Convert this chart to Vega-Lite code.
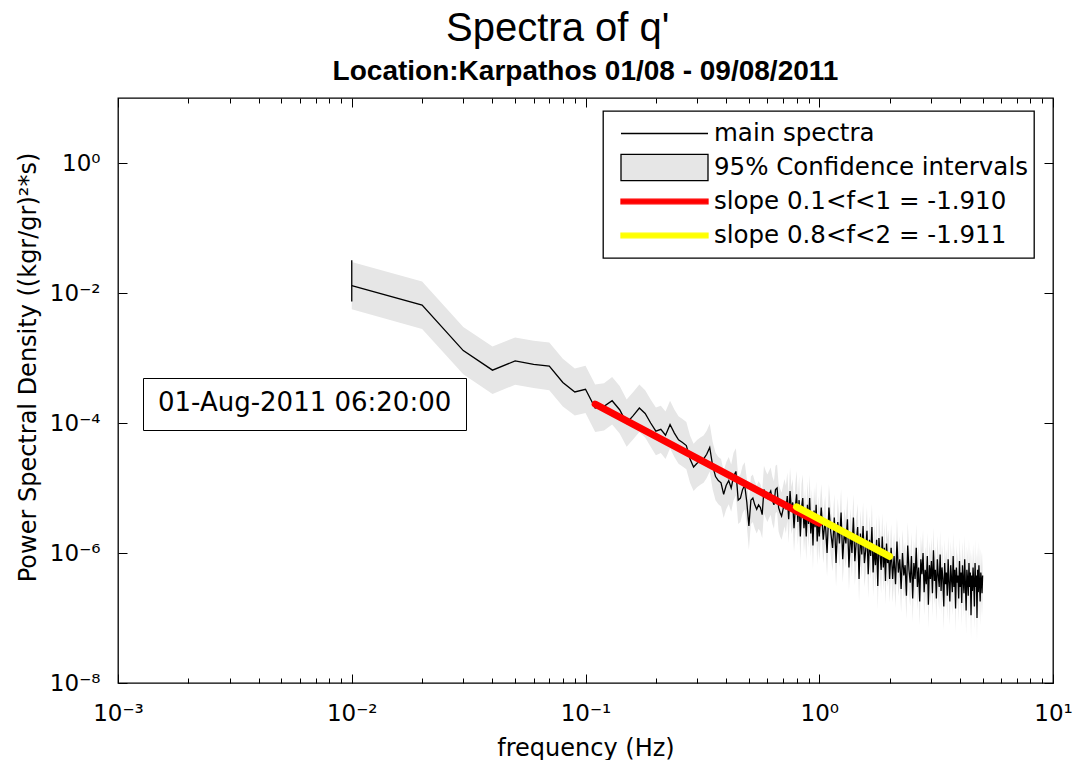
{
"$schema": "https://vega.github.io/schema/vega-lite/v6.json",
"width": 935, "height": 585,
"autosize": {"type": "none"},
"padding": {"left": 118, "top": 98, "right": 22, "bottom": 77},
"background": "white",
"title": {"text": "Spectra of q'\u00a0\u00a0\u00a0\u00a0\u00a0\u200b", "subtitle": "Location:Karpathos 01/08  - 09/08/2011", "anchor": "middle", "frame": "group", "font": "Liberation Sans", "fontSize": 40, "fontWeight": "normal", "color": "black", "subtitleFont": "Liberation Sans", "subtitleFontSize": 28, "subtitleFontWeight": "bold", "subtitleColor": "black", "subtitlePadding": 9, "offset": 12},
"datasets": {
"spec": [
{"f":0.01,"p":1.3e-2,"lo":0.56e-2,"hi":3.0e-2},
{"f":0.02,"p":6.5e-3,"lo":2.8e-3,"hi":15.0e-3},
{"f":0.03,"p":1.3e-3,"lo":0.56e-3,"hi":3.0e-3},
{"f":0.04,"p":6.5e-4,"lo":2.8e-4,"hi":15.0e-4},
{"f":0.05,"p":9.0e-4,"lo":3.87e-4,"hi":20.7e-4},
{"f":0.06,"p":8.0e-4,"lo":3.44e-4,"hi":18.4e-4},
{"f":0.07,"p":7.5e-4,"lo":3.2e-4,"hi":17.3e-4},
{"f":0.08,"p":4.2e-4,"lo":1.8e-4,"hi":9.7e-4},
{"f":0.09,"p":3.0e-4,"lo":1.3e-4,"hi":6.9e-4},
{"f":0.10,"p":3.3e-4,"lo":1.42e-4,"hi":7.6e-4},
{"f":0.11,"p":1.7e-4,"lo":0.73e-4,"hi":3.9e-4},
{"f":0.12,"p":1.8e-4,"lo":0.77e-4,"hi":4.1e-4},
{"f":0.13,"p":2.2e-4,"lo":0.95e-4,"hi":5.1e-4},
{"f":0.14,"p":1.6e-4,"lo":0.69e-4,"hi":3.7e-4},
{"f":0.15,"p":1.0e-4,"lo":0.43e-4,"hi":2.3e-4},
{"f":0.16,"p":1.3e-4,"lo":0.56e-4,"hi":3.0e-4},
{"f":0.17,"p":1.7e-4,"lo":0.73e-4,"hi":3.9e-4},
{"f":0.18,"p":1.4e-4,"lo":0.60e-4,"hi":3.2e-4},
{"f":0.19,"p":1.0e-4,"lo":0.43e-4,"hi":2.3e-4},
{"f":0.20,"p":7.5e-5,"lo":3.2e-5,"hi":17.3e-5},
{"f":0.21,"p":8.0e-5,"lo":3.44e-5,"hi":18.4e-5},
{"f":0.22,"p":6.5e-5,"lo":2.8e-5,"hi":15.0e-5},
{"f":0.23,"p":9.5e-5,"lo":4.1e-5,"hi":21.9e-5},
{"f":0.24,"p":7.0e-5,"lo":3.0e-5,"hi":16.1e-5},
{"f":0.25,"p":5.5e-5,"lo":2.37e-5,"hi":12.7e-5},
{"f":0.26,"p":5.0e-5,"lo":2.15e-5,"hi":11.5e-5},
{"f":0.27,"p":4.5e-5,"lo":1.94e-5,"hi":10.4e-5},
{"f":0.28,"p":2.8e-5,"lo":1.2e-5,"hi":6.4e-5},
{"f":0.29,"p":2.1e-5,"lo":0.90e-5,"hi":4.8e-5},
{"f":0.30,"p":2.4e-5,"lo":1.03e-5,"hi":5.5e-5},
{"f":0.31,"p":2.6e-5,"lo":1.12e-5,"hi":6.0e-5},
{"f":0.32,"p":2.8e-5,"lo":1.2e-5,"hi":6.4e-5},
{"f":0.33,"p":3.3e-5,"lo":1.42e-5,"hi":7.6e-5},
{"f":0.34,"p":4.2e-5,"lo":1.8e-5,"hi":9.7e-5},
{"f":0.35,"p":2.2e-5,"lo":0.95e-5,"hi":5.1e-5},
{"f":0.36,"p":1.5e-5,"lo":0.65e-5,"hi":3.5e-5},
{"f":0.37,"p":1.3e-5,"lo":0.56e-5,"hi":3.0e-5},
{"f":0.38,"p":1.2e-5,"lo":0.52e-5,"hi":2.8e-5},
{"f":0.39,"p":8.0e-6,"lo":3.44e-6,"hi":18.4e-6},
{"f":0.40,"p":1.1e-5,"lo":0.47e-5,"hi":2.5e-5},
{"f":0.41,"p":1.3e-5,"lo":0.56e-5,"hi":3.0e-5},
{"f":0.42,"p":1.0e-5,"lo":0.43e-5,"hi":2.3e-5},
{"f":0.43,"p":1.5e-5,"lo":0.65e-5,"hi":3.5e-5},
{"f":0.44,"p":1.8e-5,"lo":0.77e-5,"hi":4.1e-5},
{"f":0.45,"p":6.5e-6,"lo":2.8e-6,"hi":15.0e-6},
{"f":0.46,"p":7.0e-6,"lo":3.0e-6,"hi":16.1e-6},
{"f":0.47,"p":9.5e-6,"lo":4.1e-6,"hi":21.9e-6},
{"f":0.48,"p":1.1e-5,"lo":0.47e-5,"hi":2.5e-5},
{"f":0.49,"p":6.0e-6,"lo":2.58e-6,"hi":13.8e-6},
{"f":0.50,"p":2.6e-6,"lo":1.12e-6,"hi":6.0e-6},
{"f":0.51,"p":6.5e-6,"lo":2.8e-6,"hi":15.0e-6},
{"f":0.52,"p":7.0e-6,"lo":3.0e-6,"hi":16.1e-6},
{"f":0.53,"p":5.5e-6,"lo":2.37e-6,"hi":12.7e-6},
{"f":0.54,"p":4.7e-6,"lo":2.0e-6,"hi":10.8e-6},
{"f":0.55,"p":5.5e-6,"lo":2.37e-6,"hi":12.7e-6},
{"f":0.56,"p":5.0e-6,"lo":2.15e-6,"hi":11.5e-6},
{"f":0.57,"p":3.9e-6,"lo":1.68e-6,"hi":9.0e-6},
{"f":0.58,"p":9.5e-6,"lo":4.1e-6,"hi":21.9e-6},
{"f":0.59,"p":8.0e-6,"lo":3.44e-6,"hi":18.4e-6},
{"f":0.60,"p":7.0e-6,"lo":3.0e-6,"hi":16.1e-6},
{"f":0.61,"p":8.0e-6,"lo":3.44e-6,"hi":18.4e-6},
{"f":0.62,"p":9.0e-6,"lo":3.87e-6,"hi":20.7e-6},
{"f":0.63,"p":6.5e-6,"lo":2.8e-6,"hi":15.0e-6},
{"f":0.64,"p":5.5e-6,"lo":2.37e-6,"hi":12.7e-6},
{"f":0.65,"p":9.5e-6,"lo":4.1e-6,"hi":21.9e-6},
{"f":0.66,"p":1.0e-5,"lo":0.43e-5,"hi":2.3e-5},
{"f":0.67,"p":5.0e-6,"lo":2.15e-6,"hi":11.5e-6},
{"f":0.68,"p":4.2e-6,"lo":1.8e-6,"hi":9.7e-6},
{"f":0.69,"p":3.7e-6,"lo":1.6e-6,"hi":8.5e-6},
{"f":0.70,"p":4.7e-6,"lo":2.0e-6,"hi":10.8e-6},
{"f":0.71,"p":6.0e-6,"lo":2.58e-6,"hi":13.8e-6},
{"f":0.72,"p":4.7e-6,"lo":2.0e-6,"hi":10.8e-6},
{"f":0.73,"p":7.5e-6,"lo":3.2e-6,"hi":17.3e-6},
{"f":0.74,"p":3.3e-6,"lo":1.42e-6,"hi":7.6e-6},
{"f":0.75,"p":9.0e-6,"lo":3.87e-6,"hi":20.7e-6},
{"f":0.76,"p":4.5e-6,"lo":1.94e-6,"hi":10.4e-6},
{"f":0.77,"p":6.0e-6,"lo":2.58e-6,"hi":13.8e-6},
{"f":0.78,"p":2.4e-6,"lo":1.03e-6,"hi":5.5e-6},
{"f":0.79,"p":5.0e-6,"lo":2.15e-6,"hi":11.5e-6},
{"f":0.80,"p":8.0e-6,"lo":3.44e-6,"hi":18.4e-6},
{"f":0.81,"p":3.0e-6,"lo":1.3e-6,"hi":6.9e-6},
{"f":0.82,"p":6.5e-6,"lo":2.8e-6,"hi":15.0e-6},
{"f":0.83,"p":1.8e-6,"lo":0.77e-6,"hi":4.1e-6},
{"f":0.84,"p":5.0e-6,"lo":2.15e-6,"hi":11.5e-6},
{"f":0.85,"p":7.0e-6,"lo":3.0e-6,"hi":16.1e-6},
{"f":0.86,"p":2.4e-6,"lo":1.03e-6,"hi":5.5e-6},
{"f":0.87,"p":4.2e-6,"lo":1.8e-6,"hi":9.7e-6},
{"f":0.88,"p":1.8e-6,"lo":0.77e-6,"hi":4.1e-6},
{"f":0.89,"p":5.5e-6,"lo":2.37e-6,"hi":12.7e-6},
{"f":0.90,"p":2.8e-6,"lo":1.2e-6,"hi":6.4e-6},
{"f":0.91,"p":7.0e-6,"lo":3.0e-6,"hi":16.1e-6},
{"f":0.92,"p":2.0e-6,"lo":0.86e-6,"hi":4.6e-6},
{"f":0.93,"p":4.2e-6,"lo":1.8e-6,"hi":9.7e-6},
{"f":0.94,"p":1.3e-6,"lo":0.56e-6,"hi":3.0e-6},
{"f":0.95,"p":4.5e-6,"lo":1.94e-6,"hi":10.4e-6},
{"f":0.96,"p":2.5e-6,"lo":1.08e-6,"hi":5.8e-6},
{"f":0.97,"p":5.5e-6,"lo":2.37e-6,"hi":12.7e-6},
{"f":0.98,"p":1.5e-6,"lo":0.65e-6,"hi":3.5e-6},
{"f":0.99,"p":3.3e-6,"lo":1.42e-6,"hi":7.6e-6},
{"f":1.00,"p":1.8e-6,"lo":0.77e-6,"hi":4.1e-6},
{"f":1.02,"p":5.0e-6,"lo":2.15e-6,"hi":11.5e-6},
{"f":1.04,"p":1.6e-6,"lo":0.69e-6,"hi":3.7e-6},
{"f":1.06,"p":3.3e-6,"lo":1.42e-6,"hi":7.6e-6},
{"f":1.08,"p":1.0e-6,"lo":0.43e-6,"hi":2.3e-6},
{"f":1.10,"p":5.0e-6,"lo":2.15e-6,"hi":11.5e-6},
{"f":1.12,"p":2.1e-6,"lo":0.90e-6,"hi":4.8e-6},
{"f":1.14,"p":1.2e-6,"lo":0.52e-6,"hi":2.8e-6},
{"f":1.16,"p":3.5e-6,"lo":1.5e-6,"hi":8.1e-6},
{"f":1.18,"p":7.0e-7,"lo":3.0e-7,"hi":16.1e-7},
{"f":1.20,"p":3.0e-6,"lo":1.3e-6,"hi":6.9e-6},
{"f":1.22,"p":1.4e-6,"lo":0.60e-6,"hi":3.2e-6},
{"f":1.24,"p":4.2e-6,"lo":1.8e-6,"hi":9.7e-6},
{"f":1.26,"p":8.0e-7,"lo":3.44e-7,"hi":18.4e-7},
{"f":1.28,"p":2.1e-6,"lo":0.90e-6,"hi":4.8e-6},
{"f":1.30,"p":1.4e-6,"lo":0.60e-6,"hi":3.2e-6},
{"f":1.32,"p":3.3e-6,"lo":1.42e-6,"hi":7.6e-6},
{"f":1.34,"p":6.0e-7,"lo":2.58e-7,"hi":13.8e-7},
{"f":1.36,"p":2.1e-6,"lo":0.90e-6,"hi":4.8e-6},
{"f":1.38,"p":1.0e-6,"lo":0.43e-6,"hi":2.3e-6},
{"f":1.40,"p":3.5e-6,"lo":1.5e-6,"hi":8.1e-6},
{"f":1.42,"p":7.5e-7,"lo":3.2e-7,"hi":17.3e-7},
{"f":1.44,"p":1.5e-6,"lo":0.65e-6,"hi":3.5e-6},
{"f":1.46,"p":2.5e-6,"lo":1.08e-6,"hi":5.8e-6},
{"f":1.48,"p":4.0e-7,"lo":1.72e-7,"hi":9.2e-7},
{"f":1.50,"p":2.0e-6,"lo":0.86e-6,"hi":4.6e-6},
{"f":1.52,"p":9.5e-7,"lo":4.1e-7,"hi":21.9e-7},
{"f":1.54,"p":2.6e-6,"lo":1.12e-6,"hi":6.0e-6},
{"f":1.56,"p":7.0e-7,"lo":3.0e-7,"hi":16.1e-7},
{"f":1.58,"p":1.1e-6,"lo":0.47e-6,"hi":2.5e-6},
{"f":1.60,"p":2.2e-6,"lo":0.95e-6,"hi":5.1e-6},
{"f":1.62,"p":4.7e-7,"lo":2.0e-7,"hi":10.8e-7},
{"f":1.64,"p":1.6e-6,"lo":0.69e-6,"hi":3.7e-6},
{"f":1.66,"p":9.0e-7,"lo":3.87e-7,"hi":20.7e-7},
{"f":1.68,"p":2.5e-6,"lo":1.08e-6,"hi":5.8e-6},
{"f":1.70,"p":5.0e-7,"lo":2.15e-7,"hi":11.5e-7},
{"f":1.72,"p":1.2e-6,"lo":0.52e-6,"hi":2.8e-6},
{"f":1.74,"p":6.5e-7,"lo":2.8e-7,"hi":15.0e-7},
{"f":1.76,"p":1.6e-6,"lo":0.69e-6,"hi":3.7e-6},
{"f":1.78,"p":3.1e-7,"lo":1.33e-7,"hi":7.1e-7},
{"f":1.80,"p":1.7e-6,"lo":0.73e-6,"hi":3.9e-6},
{"f":1.82,"p":9.5e-7,"lo":4.1e-7,"hi":21.9e-7},
{"f":1.84,"p":5.5e-7,"lo":2.37e-7,"hi":12.7e-7},
{"f":1.86,"p":1.8e-6,"lo":0.77e-6,"hi":4.1e-6},
{"f":1.88,"p":6.0e-7,"lo":2.58e-7,"hi":13.8e-7},
{"f":1.90,"p":1.2e-6,"lo":0.52e-6,"hi":2.8e-6},
{"f":1.92,"p":3.7e-7,"lo":1.6e-7,"hi":8.5e-7},
{"f":1.94,"p":1.4e-6,"lo":0.60e-6,"hi":3.2e-6},
{"f":1.96,"p":7.0e-7,"lo":3.0e-7,"hi":16.1e-7},
{"f":1.98,"p":1.0e-6,"lo":0.43e-6,"hi":2.3e-6},
{"f":2.00,"p":4.0e-7,"lo":1.72e-7,"hi":9.2e-7},
{"f":2.03,"p":1.2e-6,"lo":0.52e-6,"hi":2.8e-6},
{"f":2.06,"p":4.0e-7,"lo":1.72e-7,"hi":9.2e-7},
{"f":2.09,"p":9.0e-7,"lo":3.87e-7,"hi":20.7e-7},
{"f":2.12,"p":3.3e-7,"lo":1.42e-7,"hi":7.6e-7},
{"f":2.15,"p":1.5e-6,"lo":0.65e-6,"hi":3.5e-6},
{"f":2.18,"p":5.0e-7,"lo":2.15e-7,"hi":11.5e-7},
{"f":2.21,"p":8.0e-7,"lo":3.44e-7,"hi":18.4e-7},
{"f":2.24,"p":2.8e-7,"lo":1.2e-7,"hi":6.4e-7},
{"f":2.27,"p":1.0e-6,"lo":0.43e-6,"hi":2.3e-6},
{"f":2.30,"p":4.5e-7,"lo":1.94e-7,"hi":10.4e-7},
{"f":2.33,"p":6.5e-7,"lo":2.8e-7,"hi":15.0e-7},
{"f":2.36,"p":2.2e-7,"lo":0.95e-7,"hi":5.1e-7},
{"f":2.39,"p":1.3e-6,"lo":0.56e-6,"hi":3.0e-6},
{"f":2.42,"p":5.5e-7,"lo":2.37e-7,"hi":12.7e-7},
{"f":2.45,"p":3.5e-7,"lo":1.5e-7,"hi":8.1e-7},
{"f":2.48,"p":9.0e-7,"lo":3.87e-7,"hi":20.7e-7},
{"f":2.51,"p":2.0e-7,"lo":0.86e-7,"hi":4.6e-7},
{"f":2.54,"p":7.0e-7,"lo":3.0e-7,"hi":16.1e-7},
{"f":2.57,"p":4.0e-7,"lo":1.72e-7,"hi":9.2e-7},
{"f":2.60,"p":1.2e-6,"lo":0.52e-6,"hi":2.8e-6},
{"f":2.63,"p":3.0e-7,"lo":1.3e-7,"hi":6.9e-7},
{"f":2.66,"p":6.0e-7,"lo":2.58e-7,"hi":13.8e-7},
{"f":2.69,"p":1.8e-7,"lo":0.77e-7,"hi":4.1e-7},
{"f":2.72,"p":8.0e-7,"lo":3.44e-7,"hi":18.4e-7},
{"f":2.75,"p":4.7e-7,"lo":2.0e-7,"hi":10.8e-7},
{"f":2.78,"p":1.0e-6,"lo":0.43e-6,"hi":2.3e-6},
{"f":2.81,"p":2.5e-7,"lo":1.08e-7,"hi":5.8e-7},
{"f":2.84,"p":5.5e-7,"lo":2.37e-7,"hi":12.7e-7},
{"f":2.87,"p":3.3e-7,"lo":1.42e-7,"hi":7.6e-7},
{"f":2.90,"p":9.0e-7,"lo":3.87e-7,"hi":20.7e-7},
{"f":2.93,"p":1.6e-7,"lo":0.69e-7,"hi":3.7e-7},
{"f":2.96,"p":6.5e-7,"lo":2.8e-7,"hi":15.0e-7},
{"f":2.99,"p":4.0e-7,"lo":1.72e-7,"hi":9.2e-7},
{"f":3.02,"p":7.5e-7,"lo":3.2e-7,"hi":17.3e-7},
{"f":3.05,"p":2.4e-7,"lo":1.03e-7,"hi":5.5e-7},
{"f":3.08,"p":1.1e-6,"lo":0.47e-6,"hi":2.5e-6},
{"f":3.11,"p":3.7e-7,"lo":1.6e-7,"hi":8.5e-7},
{"f":3.14,"p":5.5e-7,"lo":2.37e-7,"hi":12.7e-7},
{"f":3.17,"p":2.0e-7,"lo":0.86e-7,"hi":4.6e-7},
{"f":3.20,"p":8.0e-7,"lo":3.44e-7,"hi":18.4e-7},
{"f":3.23,"p":4.5e-7,"lo":1.94e-7,"hi":10.4e-7},
{"f":3.26,"p":3.0e-7,"lo":1.3e-7,"hi":6.9e-7},
{"f":3.29,"p":9.5e-7,"lo":4.1e-7,"hi":21.9e-7},
{"f":3.32,"p":2.6e-7,"lo":1.12e-7,"hi":6.0e-7},
{"f":3.35,"p":6.0e-7,"lo":2.58e-7,"hi":13.8e-7},
{"f":3.38,"p":4.0e-7,"lo":1.72e-7,"hi":9.2e-7},
{"f":3.41,"p":1.5e-7,"lo":0.65e-7,"hi":3.5e-7},
{"f":3.44,"p":7.0e-7,"lo":3.0e-7,"hi":16.1e-7},
{"f":3.47,"p":3.3e-7,"lo":1.42e-7,"hi":7.6e-7},
{"f":3.50,"p":5.0e-7,"lo":2.15e-7,"hi":11.5e-7},
{"f":3.53,"p":2.2e-7,"lo":0.95e-7,"hi":5.1e-7},
{"f":3.56,"p":8.0e-7,"lo":3.44e-7,"hi":18.4e-7},
{"f":3.59,"p":3.5e-7,"lo":1.5e-7,"hi":8.1e-7},
{"f":3.62,"p":1.8e-7,"lo":0.77e-7,"hi":4.1e-7},
{"f":3.65,"p":6.5e-7,"lo":2.8e-7,"hi":15.0e-7},
{"f":3.68,"p":4.0e-7,"lo":1.72e-7,"hi":9.2e-7},
{"f":3.71,"p":2.5e-7,"lo":1.08e-7,"hi":5.8e-7},
{"f":3.74,"p":9.0e-7,"lo":3.87e-7,"hi":20.7e-7},
{"f":3.77,"p":3.0e-7,"lo":1.3e-7,"hi":6.9e-7},
{"f":3.80,"p":5.5e-7,"lo":2.37e-7,"hi":12.7e-7},
{"f":3.83,"p":1.4e-7,"lo":0.60e-7,"hi":3.2e-7},
{"f":3.86,"p":6.0e-7,"lo":2.58e-7,"hi":13.8e-7},
{"f":3.89,"p":3.5e-7,"lo":1.5e-7,"hi":8.1e-7},
{"f":3.92,"p":4.5e-7,"lo":1.94e-7,"hi":10.4e-7},
{"f":3.95,"p":2.0e-7,"lo":0.86e-7,"hi":4.6e-7},
{"f":3.98,"p":7.5e-7,"lo":3.2e-7,"hi":17.3e-7},
{"f":4.01,"p":3.0e-7,"lo":1.3e-7,"hi":6.9e-7},
{"f":4.04,"p":5.0e-7,"lo":2.15e-7,"hi":11.5e-7},
{"f":4.07,"p":1.7e-7,"lo":0.73e-7,"hi":3.9e-7},
{"f":4.10,"p":6.5e-7,"lo":2.8e-7,"hi":15.0e-7},
{"f":4.13,"p":3.9e-7,"lo":1.68e-7,"hi":9.0e-7},
{"f":4.16,"p":2.4e-7,"lo":1.03e-7,"hi":5.5e-7},
{"f":4.19,"p":8.0e-7,"lo":3.44e-7,"hi":18.4e-7},
{"f":4.22,"p":3.3e-7,"lo":1.42e-7,"hi":7.6e-7},
{"f":4.25,"p":1.3e-7,"lo":0.56e-7,"hi":3.0e-7},
{"f":4.28,"p":5.5e-7,"lo":2.37e-7,"hi":12.7e-7},
{"f":4.31,"p":4.0e-7,"lo":1.72e-7,"hi":9.2e-7},
{"f":4.34,"p":2.2e-7,"lo":0.95e-7,"hi":5.1e-7},
{"f":4.37,"p":7.0e-7,"lo":3.0e-7,"hi":16.1e-7},
{"f":4.40,"p":3.0e-7,"lo":1.3e-7,"hi":6.9e-7},
{"f":4.43,"p":5.0e-7,"lo":2.15e-7,"hi":11.5e-7},
{"f":4.46,"p":1.1e-7,"lo":0.47e-7,"hi":2.5e-7},
{"f":4.49,"p":4.5e-7,"lo":1.94e-7,"hi":10.4e-7},
{"f":4.52,"p":2.6e-7,"lo":1.12e-7,"hi":6.0e-7},
{"f":4.55,"p":6.0e-7,"lo":2.58e-7,"hi":13.8e-7},
{"f":4.58,"p":3.5e-7,"lo":1.5e-7,"hi":8.1e-7},
{"f":4.61,"p":1.5e-7,"lo":0.65e-7,"hi":3.5e-7},
{"f":4.64,"p":7.0e-7,"lo":3.0e-7,"hi":16.1e-7},
{"f":4.67,"p":3.0e-7,"lo":1.3e-7,"hi":6.9e-7},
{"f":4.70,"p":4.5e-7,"lo":1.94e-7,"hi":10.4e-7},
{"f":4.73,"p":1.0e-7,"lo":0.43e-7,"hi":2.3e-7},
{"f":4.76,"p":5.5e-7,"lo":2.37e-7,"hi":12.7e-7},
{"f":4.79,"p":2.5e-7,"lo":1.08e-7,"hi":5.8e-7},
{"f":4.82,"p":6.5e-7,"lo":2.8e-7,"hi":15.0e-7},
{"f":4.85,"p":3.3e-7,"lo":1.42e-7,"hi":7.6e-7},
{"f":4.88,"p":1.8e-7,"lo":0.77e-7,"hi":4.1e-7},
{"f":4.91,"p":5.0e-7,"lo":2.15e-7,"hi":11.5e-7},
{"f":4.94,"p":3.9e-7,"lo":1.68e-7,"hi":9.0e-7},
{"f":4.97,"p":2.4e-7,"lo":1.03e-7,"hi":5.5e-7},
{"f":5.00,"p":4.5e-7,"lo":1.94e-7,"hi":10.4e-7}
],
"fits": [
{"f":0.11,"p":1.95e-4,"s":"slope 0.1<f<1 = -1.910"},
{"f":1.0,"p":2.88e-6,"s":"slope 0.1<f<1 = -1.910"},
{"f":0.8,"p":5.13e-6,"s":"slope 0.8<f<2 = -1.911"},
{"f":2.0,"p":8.9e-7,"s":"slope 0.8<f<2 = -1.911"}
],
"start": [{"f":0.01,"a":3.2e-2,"b":7.4e-3}]
},
"layer": [
{
"data": {"name": "spec"},
"mark": {"type": "area", "interpolate": "linear", "color": "#e6e6e6", "opacity": 1},
"encoding": {
"x": {"field": "f", "type": "quantitative", "sort": null,
 "scale": {"type": "log", "domain": [0.001, 10], "nice": false},
 "axis": {"orient": "bottom", "title": "frequency (Hz)",
  "values": [0.001,0.002,0.003,0.004,0.005,0.006,0.007,0.008,0.009,0.01,0.02,0.03,0.04,0.05,0.06,0.07,0.08,0.09,0.1,0.2,0.3,0.4,0.5,0.6,0.7,0.8,0.9,1,2,3,4,5,6,7,8,9,10],
  "labelExpr": "abs(log(datum.value)/LN10 - round(log(datum.value)/LN10)) < 0.001 ? '10' + (round(log(datum.value)/LN10) < 0 ? '⁻' : '') + ['⁰','¹','²','³','⁴','⁵','⁶','⁷','⁸','⁹'][abs(round(log(datum.value)/LN10))] : ''",
  "tickSize": {"condition": {"test": "abs(log(datum.value)/LN10 - round(log(datum.value)/LN10)) < 0.001", "value": -9}, "value": -5},
  "labelPadding": 28, "titlePadding": 7, "labelOverlap": false, "labelFlush": false, "labelBound": false}},
"y": {"field": "lo", "type": "quantitative",
 "scale": {"type": "log", "domain": [1e-8, 10], "nice": false},
 "axis": {"orient": "left", "title": "Power Spectral Density ((kgr/gr)²*s)",
  "values": [1e-8, 1e-6, 1e-4, 1e-2, 1],
  "labelExpr": "'10' + (round(log(datum.value)/LN10) < 0 ? '⁻' : '') + ['⁰','¹','²','³','⁴','⁵','⁶','⁷','⁸','⁹'][abs(round(log(datum.value)/LN10))]",
  "tickSize": -9, "labelPadding": 27, "titleX": -78, "titleY": 269, "labelOverlap": false, "labelFlush": false, "labelBound": false}},
"y2": {"field": "hi"}
}
},
{
"data": {"name": "spec"},
"mark": {"type": "line", "strokeWidth": 1.3, "interpolate": "linear"},
"encoding": {
"x": {"field": "f", "type": "quantitative", "sort": null,
 "axis": {"orient": "top", "title": null, "labels": false,
  "values": [0.001,0.002,0.003,0.004,0.005,0.006,0.007,0.008,0.009,0.01,0.02,0.03,0.04,0.05,0.06,0.07,0.08,0.09,0.1,0.2,0.3,0.4,0.5,0.6,0.7,0.8,0.9,1,2,3,4,5,6,7,8,9,10],
  "tickSize": {"condition": {"test": "abs(log(datum.value)/LN10 - round(log(datum.value)/LN10)) < 0.001", "value": -9}, "value": -5}}},
"y": {"field": "p", "type": "quantitative",
 "axis": {"orient": "right", "title": null, "labels": false, "values": [1e-8, 1e-6, 1e-4, 1e-2, 1], "tickSize": -9}},
"color": {"datum": "main spectra", "type": "nominal", "title": null,
 "scale": {"domain": ["main spectra", "95% Confidence intervals", "slope 0.1<f<1 = -1.910", "slope 0.8<f<2 = -1.911"], "range": ["#000000", "#000000", "#ff0000", "#ffff00"]},
 "legend": {"orient": "none", "legendX": 485, "legendY": 13, "title": null, "direction": "vertical",
  "fillColor": "white", "strokeColor": "black", "padding": 6,
  "symbolSize": 7569, "symbolOffset": 11, "symbolStrokeWidth": 1.3, "labelOffset": 5, "clipHeight": 33, "rowPadding": 1,
  "labelFont": "DejaVu Sans", "labelFontSize": 24.5, "labelColor": "black", "labelLimit": 0,
  "encode": {
   "legend": {"update": {"strokeWidth": {"value": 1.3}}},
   "symbols": {"update": {
    "shape": {"signal": "datum.value === '95% Confidence intervals' ? 'M-1,-0.3H1V0.3H-1Z' : datum.value === 'main spectra' ? 'M-1,0H1' : 'M-1,-0.054H1V0.054H-1Z'"},
    "fill": {"signal": "datum.value === '95% Confidence intervals' ? '#e6e6e6' : datum.value === 'slope 0.1<f<1 = -1.910' ? '#ff0000' : datum.value === 'slope 0.8<f<2 = -1.911' ? '#ffff00' : '#000000'"},
    "opacity": {"value": 1}, "fillOpacity": {"value": 1}, "strokeOpacity": {"value": 1}}}
  }}}
}
},
{
"data": {"name": "fits"},
"mark": {"type": "line", "strokeWidth": 7, "strokeCap": "round"},
"encoding": {
"x": {"field": "f", "type": "quantitative", "axis": null},
"y": {"field": "p", "type": "quantitative", "axis": null},
"color": {"field": "s", "type": "nominal", "title": null,
 "legend": {"orient": "none", "legendX": 485, "legendY": 13, "title": null, "direction": "vertical",
  "fillColor": "white", "strokeColor": "black", "padding": 6,
  "symbolSize": 7569, "symbolOffset": 11, "symbolStrokeWidth": 1.3, "labelOffset": 5, "clipHeight": 33, "rowPadding": 1,
  "labelFont": "DejaVu Sans", "labelFontSize": 24.5, "labelColor": "black", "labelLimit": 0,
  "encode": {
   "legend": {"update": {"strokeWidth": {"value": 1.3}}},
   "symbols": {"update": {
    "shape": {"signal": "datum.value === '95% Confidence intervals' ? 'M-1,-0.3H1V0.3H-1Z' : datum.value === 'main spectra' ? 'M-1,0H1' : 'M-1,-0.054H1V0.054H-1Z'"},
    "fill": {"signal": "datum.value === '95% Confidence intervals' ? '#e6e6e6' : datum.value === 'slope 0.1<f<1 = -1.910' ? '#ff0000' : datum.value === 'slope 0.8<f<2 = -1.911' ? '#ffff00' : '#000000'"},
    "opacity": {"value": 1}, "fillOpacity": {"value": 1}, "strokeOpacity": {"value": 1}}}
  }}},
"detail": {"field": "s"}
}
},
{
"data": {"name": "start"},
"mark": {"type": "rule", "color": "black", "strokeWidth": 1.3},
"encoding": {
"x": {"field": "f", "type": "quantitative", "axis": null},
"y": {"field": "a", "type": "quantitative", "axis": null},
"y2": {"field": "b"},
"opacity": {"datum": "01-Aug-2011 06:20:00", "type": "nominal", "scale": {"range": [1, 1]},
 "legend": {"orient": "none", "legendX": 25, "legendY": 280, "title": null,
  "fillColor": "white", "strokeColor": "black", "padding": 14,
  "symbolSize": 0, "symbolOpacity": 0, "symbolStrokeWidth": 0, "labelOffset": -25, "clipHeight": 21,
  "labelFont": "DejaVu Sans", "labelFontSize": 26, "labelColor": "black", "labelLimit": 0,
  "encode": {"legend": {"update": {"strokeWidth": {"value": 1.3}}}}}}
}
}
],
"config": {
"view": {"stroke": "black", "strokeWidth": 1.3},
"axis": {"domain": false, "grid": false, "tickColor": "black", "tickWidth": 1,
 "labelFont": "DejaVu Sans", "labelFontSize": 23, "labelColor": "black",
 "titleFont": "DejaVu Sans", "titleFontSize": 24, "titleFontWeight": "normal", "titleColor": "black"}
}
}
